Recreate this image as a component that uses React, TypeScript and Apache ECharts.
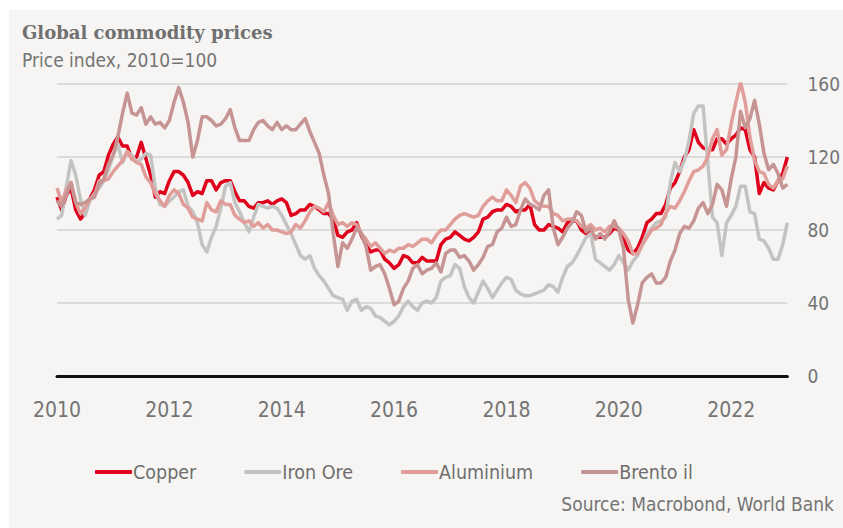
import React, { useEffect, useRef } from "react";
import * as echarts from "echarts";

// ---- Data (monthly, Jan 2010 .. Jan 2023, index 2010 = 100) ----
const START_YEAR = 2010;
const END_YEAR = 2023;

const copper = [
  98, 91, 99, 103, 91, 86, 89, 97, 102, 110, 112, 121,
  127, 131, 126, 126, 119, 120, 128, 119, 110, 98, 101, 100,
  107, 112, 112, 110, 106, 99, 101, 100, 107, 107, 102, 106,
  107, 107, 101, 96, 96, 93, 92, 95, 95, 96, 94, 96,
  97, 95, 88, 89, 91, 91, 94, 93, 91, 89, 89, 86,
  77, 76, 79, 80, 84, 77, 72, 68, 69, 69, 64, 62,
  59, 61, 66, 65, 62, 62, 65, 63, 63, 63, 72, 75,
  76, 79, 77, 75, 74, 76, 79, 86, 87, 90, 91, 91,
  94, 93, 90, 91, 91, 94, 83, 80, 80, 83, 82, 81,
  79, 84, 85, 85, 80, 78, 79, 76, 76, 76, 78, 81,
  80, 75, 69, 67, 70, 76, 84, 86, 89, 89, 94, 103,
  106, 112, 120, 124, 135, 128, 125, 124, 124, 130, 130, 127,
  130, 132, 136, 135, 124, 120, 100, 106, 103, 102, 107, 111,
  120,
];

const ironOre = [
  86, 88, 104, 118, 110, 97, 88, 96, 100, 103, 107, 113,
  121, 127, 117, 123, 121, 117, 119, 122, 121, 103, 94, 93,
  96, 98, 101, 102, 93, 90, 84, 72, 68, 76, 82, 92,
  104, 106, 95, 90, 84, 79, 87, 94, 93, 92, 93, 92,
  88, 83, 78, 72, 66, 64, 66, 59, 55, 52, 48, 44,
  43, 42, 36, 41, 42, 36, 38, 37, 33, 32, 30, 28,
  30, 33, 38, 41, 38, 36, 40, 41, 40, 43, 52, 54,
  55, 61, 59, 49, 43, 40, 46, 52, 48, 43, 47, 51,
  54, 53, 47, 45, 44, 44, 45, 46, 47, 50, 49, 46,
  54, 60, 62, 66, 71, 76, 78, 64, 62, 60, 58, 61,
  66, 62, 58, 63, 66, 72, 78, 81, 84, 85, 87, 106,
  117, 112, 118, 129, 144, 148, 148, 117, 87, 84, 66, 84,
  88, 93, 104, 104, 90, 89, 75, 74, 70, 64, 64, 72,
  84,
];

const aluminium = [
  103, 95, 102, 106, 95, 89, 92, 97, 99, 107, 107, 108,
  112, 115, 118, 123, 119, 117, 116, 109, 106, 100, 96, 93,
  99, 102, 100, 94, 92, 87, 86, 85, 95, 91, 90, 96,
  94, 94, 88, 86, 84, 85, 82, 84, 81, 83, 80, 80,
  79, 78, 79, 83, 81, 85, 90, 93, 92, 90, 95, 88,
  83, 84, 82, 84, 83, 78, 75, 71, 73, 70, 67, 69,
  68, 70, 70, 72, 71, 73, 75, 75, 73, 77, 80, 80,
  83, 86, 88, 89, 88, 87, 88, 93, 96, 98, 96, 96,
  102, 99, 95, 104, 106, 103, 96, 94, 93, 93, 89, 88,
  85, 86, 86, 85, 82, 81, 83, 80, 81, 79, 82, 82,
  81, 78, 74, 67, 67, 72, 76, 80, 81, 83, 89, 93,
  92, 96, 101, 107, 112, 113, 115, 120, 130, 135, 121, 124,
  138, 150, 161, 150, 131, 118, 112, 111, 105, 103, 107, 108,
  115,
];

const brentOil = [
  96, 93, 99, 106, 95, 94, 95, 97, 98, 105, 108, 116,
  121, 131, 144, 155, 144, 143, 147, 138, 142, 138, 139, 136,
  140, 150, 158, 150, 139, 120, 129, 142, 142, 140, 137, 138,
  141, 146, 136, 129, 129, 129, 135, 139, 140, 137, 135, 139,
  135, 137, 135, 135, 138, 141, 134, 128, 122, 110, 100, 78,
  60, 73, 70, 75, 81, 78, 71, 58, 60, 61, 56, 48,
  39, 41, 48, 52, 59, 61, 56, 58, 59, 62, 57, 67,
  69, 69, 65, 66, 63, 58, 61, 65, 71, 72, 79, 81,
  87, 82, 83, 91, 97, 94, 93, 91, 99, 102, 81, 72,
  76, 81, 84, 90, 88, 79, 81, 75, 78, 75, 79, 85,
  80, 70, 42, 29, 39, 51, 54, 56, 51, 51, 54, 63,
  69, 78, 82, 81, 85, 92, 95, 89, 94, 105, 102, 93,
  108, 120, 145, 136, 141, 151, 138, 122, 113, 116, 111, 103,
  105,
];

const seriesNames = ["Copper", "Iron Ore", "Aluminium", "Brento il"];
const seriesValues = [copper, ironOre, aluminium, brentOil];
const yTicks = [0, 40, 80, 120, 160];
const xTickStep = 2;

const titleText = "Global commodity prices";
const subtitleText = "Price index, 2010=100";
const sourceText = "Source: Macrobond, World Bank";

// ---- Styles ----
const seriesColors = ["#e0001b", "#c3c4c2", "#e09d99", "#c79494"];
const SANS = "'DejaVu Sans Condensed', 'Liberation Sans Narrow', 'Open Sans', sans-serif";
const SERIF = "'DejaVu Serif', 'Liberation Serif', serif";
const TEXT_GREY = "#747474";

function toPoints(values: number[]) {
  return values.map((v, i) => [START_YEAR + i / 12, v]);
}

export default function App() {
  const ref = useRef<HTMLDivElement>(null);

  useEffect(() => {
    if (!ref.current) return;
    const chart = echarts.init(ref.current, undefined, { renderer: "svg" });
    chart.setOption({
      animation: false,
      backgroundColor: "transparent",
      grid: { left: 57, right: 54, top: 84, bottom: 152 },
      xAxis: {
        type: "value",
        min: START_YEAR,
        max: END_YEAR,
        interval: xTickStep,
        axisLine: { show: true, onZero: true, lineStyle: { color: "#111111", width: 3 } },
        axisTick: { show: false },
        splitLine: { show: false },
        axisLabel: {
          margin: 23,
          color: TEXT_GREY,
          fontSize: 21,
          fontFamily: SANS,
          showMaxLabel: false,
          formatter: (v: number) => (v % xTickStep === 0 && v < END_YEAR ? String(v) : ""),
        },
      },
      yAxis: {
        type: "value",
        position: "right",
        min: yTicks[0],
        max: yTicks[yTicks.length - 1],
        interval: yTicks[1] - yTicks[0],
        axisLine: { show: false },
        axisTick: { show: false },
        splitLine: { show: true, lineStyle: { color: "#d2d2d2", width: 1.5 } },
        axisLabel: { margin: 20, color: TEXT_GREY, fontSize: 19, fontFamily: SANS },
      },
      legend: {
        data: seriesNames,
        left: 90,
        top: 457,
        icon: "roundRect",
        itemWidth: 37,
        itemHeight: 4,
        itemGap: 48,
        textStyle: { color: "#6e6e6e", fontSize: 19.5, fontFamily: SANS, padding: [0, 0, 0, -4] },
      },
      series: seriesNames.map((name, i) => ({
        name,
        type: "line",
        data: toPoints(seriesValues[i]),
        showSymbol: false,
        symbol: "none",
        silent: true,
        color: seriesColors[i],
        lineStyle: { color: seriesColors[i], width: 3.5, join: "round" },
      })),
      graphic: [
        {
          type: "text",
          x: 22,
          y: 32,
          style: {
            text: titleText,
            fill: "#707070",
            fontSize: 18,
            fontWeight: "bold",
            fontFamily: SERIF,
            align: "left",
            verticalAlign: "middle",
          },
        },
        {
          type: "text",
          x: 22,
          y: 60,
          style: {
            text: subtitleText,
            fill: TEXT_GREY,
            fontSize: 19,
            fontFamily: SANS,
            align: "left",
            verticalAlign: "middle",
          },
        },
        {
          type: "text",
          x: 834,
          y: 504,
          style: {
            text: sourceText,
            fill: TEXT_GREY,
            fontSize: 19,
            fontFamily: SANS,
            align: "right",
            verticalAlign: "middle",
          },
        },
      ],
    });
    return () => chart.dispose();
  }, []);

  return (
    <div style={{ position: "fixed", left: 0, top: 0, width: 843, height: 528, background: "#ffffff" }}>
      <div style={{ position: "absolute", left: 9, top: 10, right: 0, bottom: 0, background: "#f6f5f3" }} />
      <div ref={ref} style={{ position: "absolute", left: 0, top: 0, width: 843, height: 528 }} />
    </div>
  );
}
